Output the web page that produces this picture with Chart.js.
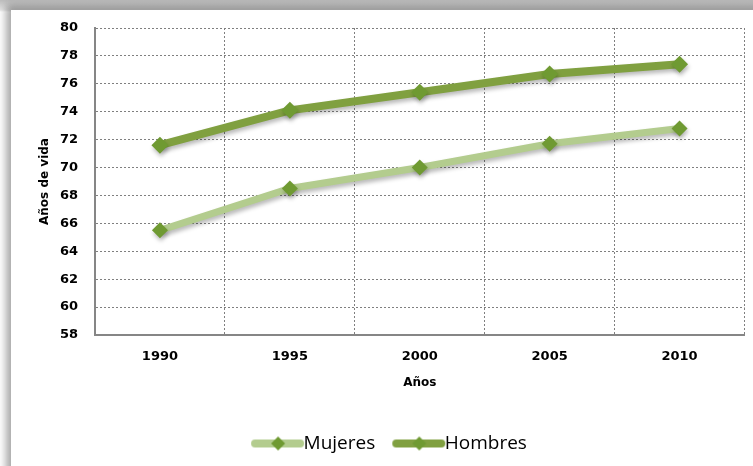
<!DOCTYPE html>
<html>
<head>
<meta charset="utf-8">
<script src="https://cdn.jsdelivr.net/npm/chart.js@4/dist/chart.umd.min.js"></script>
<style>
  html, body { margin: 0; padding: 0; background: #d4d4d4; width: 753px; height: 466px; overflow: hidden; }
  #frame { position: absolute; left: 11px; top: 10px; width: 800px; height: 500px; background: #ffffff;
           box-shadow: -3px -3px 8px 2px rgba(0,0,0,0.35); }
  #bg { position: absolute; left: 0; top: 0; width: 753px; height: 466px;
        background: linear-gradient(to bottom, #bdbdbd 0px, #e6e6e6 10px, #ffffff 12px); }
  canvas { position: absolute; left: 0; top: 0; }
</style>
</head>
<body>
<div id="bg"></div>
<div id="frame"></div>
<canvas id="c" width="753" height="466"></canvas>
<script>
// ---- data ----
const years = ['1990', '1995', '2000', '2005', '2010'];
const mujeres = [65.5, 68.5, 70.0, 71.7, 72.8];
const hombres = [71.6, 74.1, 75.4, 76.7, 77.4];
const seriesNames = ['Mujeres', 'Hombres'];
const yTitle = 'Años de vida';
const xTitle = 'Años';

const lightLine = '#b3cc8e';
const darkLine = '#80a040';
const markerColor = '#6f9a32';

function legendSample(lineColor, lineW) {
  const cv = document.createElement('canvas');
  cv.width = 72; cv.height = 18;
  const g = cv.getContext('2d');
  g.strokeStyle = lineColor; g.lineWidth = lineW; g.lineCap = 'round';
  g.beginPath(); g.moveTo(22, 9); g.lineTo(67, 9); g.stroke();
  g.fillStyle = markerColor;
  g.beginPath(); g.moveTo(45, 2); g.lineTo(52, 9); g.lineTo(45, 16); g.lineTo(38, 9); g.closePath(); g.fill();
  return cv;
}
const samples = [legendSample(lightLine, 8), legendSample(darkLine, 8)];

const shadowPlugin = {
  id: 'shadow',
  beforeDatasetsDraw(chart) {
    const ctx = chart.ctx; ctx.save();
    ctx.shadowColor = 'rgba(0,0,0,0.28)'; ctx.shadowBlur = 4; ctx.shadowOffsetX = 1; ctx.shadowOffsetY = 3;
  },
  afterDatasetsDraw(chart) { chart.ctx.restore(); }
};

new Chart(document.getElementById('c'), {
  type: 'line',
  data: {
    labels: years,
    datasets: [
      { label: seriesNames[0], data: mujeres, borderColor: lightLine, borderWidth: 7,
        pointStyle: 'rectRot', pointRadius: 8, pointBackgroundColor: markerColor, pointBorderColor: markerColor, pointBorderWidth: 0 },
      { label: seriesNames[1], data: hombres, borderColor: darkLine, borderWidth: 8,
        pointStyle: 'rectRot', pointRadius: 8.5, pointBackgroundColor: markerColor, pointBorderColor: markerColor, pointBorderWidth: 0 }
    ]
  },
  options: {
    responsive: false,
    devicePixelRatio: 1,
    animation: false,
    layout: { padding: { left: 24, right: 6, top: 28, bottom: 3 } },
    plugins: {
      tooltip: { enabled: false },
      legend: {
        position: 'bottom',
        labels: {
          usePointStyle: true,
          pointStyleWidth: 50,
          padding: 10,
          color: '#000',
          font: { family: 'Open Sans', size: 19 },
          generateLabels(chart) {
            const items = Chart.defaults.plugins.legend.labels.generateLabels(chart);
            items.forEach((it, i) => { it.pointStyle = samples[i]; });
            return items;
          }
        }
      }
    },
    scales: {
      x: {
        type: 'category',
        offset: true,
        grid: { offset: true, color: '#7f7f7f', lineWidth: 1, drawTicks: false },
        border: { display: true, color: '#868686', width: 2, dash: [2, 2] },
        ticks: { padding: 14, color: '#000', font: { family: 'DejaVu Sans', weight: 'bold', size: 13 } },
        title: { display: true, text: xTitle, color: '#000', padding: { top: 4, bottom: 34 },
                 font: { family: 'DejaVu Sans', weight: 'bold', size: 12 } },
        afterFit(s) { s.height = 89; s.paddingLeft = 0; s.paddingRight = 0; }
      },
      y: {
        min: 58, max: 80,
        grid: { color: '#7f7f7f', lineWidth: 1, drawTicks: false },
        border: { display: true, color: '#868686', width: 2, dash: [2, 2] },
        ticks: { stepSize: 2, padding: 17, color: '#000', font: { family: 'DejaVu Sans', weight: 'bold', size: 13 } },
        title: { display: true, text: yTitle, color: '#000', padding: { top: 14, bottom: 4 },
                 font: { family: 'DejaVu Sans', weight: 'bold', size: 12 } },
        afterFit(s) { s.width = 71; }
      }
    }
  },
  plugins: [shadowPlugin]
});
</script>
</body>
</html>
